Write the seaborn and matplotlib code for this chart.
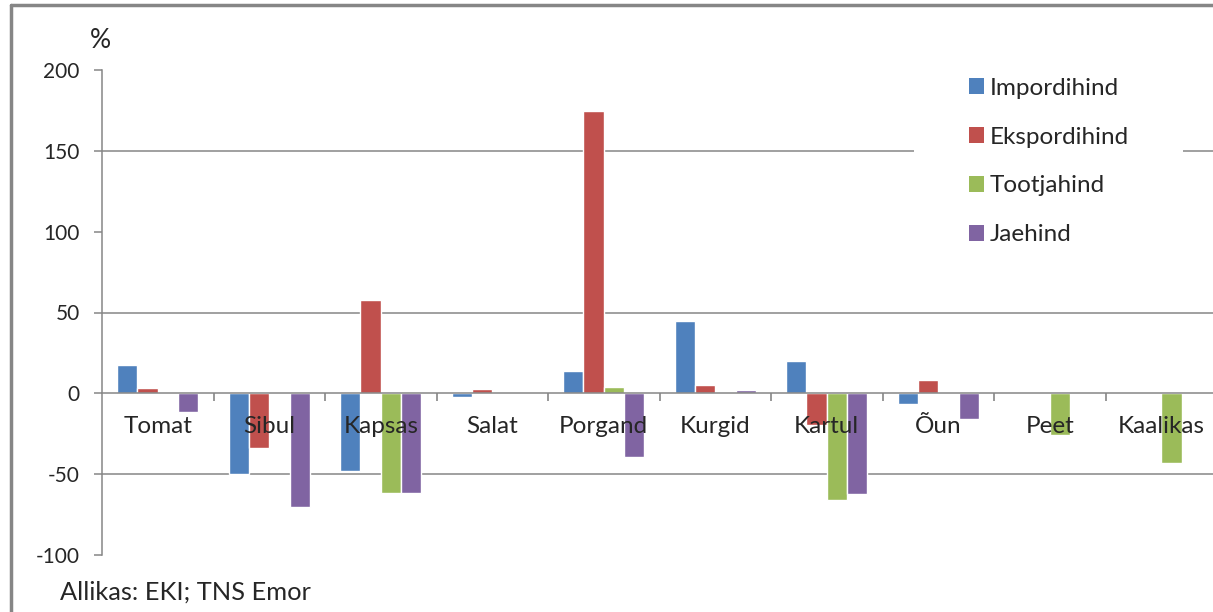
import pandas as pd
import numpy as np
import matplotlib.pyplot as plt
import seaborn as sns
from matplotlib.lines import Line2D
from matplotlib.patches import Patch

# andmed (loetud pildilt, %)
kategooriad = ["Tomat", "Sibul", "Kapsas", "Salat", "Porgand", "Kurgid", "Kartul", "Õun", "Peet", "Kaalikas"]
seeriad = ["Impordihind", "Ekspordihind", "Tootjahind", "Jaehind"]

impordihind = [17.3, -50, -48, -2.3, 13.8, 45, 19.8, -6.8, 0, 0]
ekspordihind = [3, -34, 58, 2.5, 174.7, 5, -19.5, 8, 0, 0]
tootjahind = [0, 0, -61.5, 0, 3.9, 0, -66, 0, -26, -43]
jaehind = [-11.5, -70, -61.5, 0, -39.5, 2, -62.3, -16, 0, 0]

varvid = ["#4F81BD", "#C0504D", "#9BBB59", "#8064A2"]

df = pd.DataFrame({
    "Toode": kategooriad * 4,
    "Seeria": sum([[s] * len(kategooriad) for s in seeriad], []),
    "Muutus": impordihind + ekspordihind + tootjahind + jaehind,
})

sns.set_style("white")
plt.rcParams['font.family'] = ['Lato', 'DejaVu Sans']
plt.rcParams['axes.unicode_minus'] = False

fig = plt.figure(figsize=(12.13, 6.12), dpi=100)
ax = fig.add_axes([102/1213, 57/612, 1115/1213, 485/612])

sns.barplot(data=df, x="Toode", y="Muutus", hue="Seeria", order=kategooriad,
            hue_order=seeriad, palette=varvid, saturation=1, width=0.73,
            errorbar=None, ax=ax, legend=False)

grey = "#868686"
ax.set_axisbelow(False)  # nimed tulpade peale nagu Excelis
ax.set_xlim(-0.5, 9.5)
ax.set_ylim(-100, 200)
ax.set_yticks(np.arange(-100, 201, 50))
for g in [150, 50, -50]:
    ax.axhline(g, color=grey, lw=1.1, zorder=0)

for s in ["top", "right"]:
    ax.spines[s].set_visible(False)
ax.spines["left"].set_color(grey)
ax.spines["left"].set_linewidth(1.1)
ax.spines["bottom"].set_position(("data", 0))
ax.spines["bottom"].set_color(grey)
ax.spines["bottom"].set_linewidth(1.1)

ax.set_xticks(range(len(kategooriad)))
ax.set_xticklabels(kategooriad)
ax.set_xticks(np.arange(0.5, 9.6, 1), minor=True)
ax.tick_params(axis="x", which="major", length=0, pad=16, labelsize=17.5)
ax.tick_params(axis="x", which="minor", length=6, width=1.2, color=grey, direction="out", bottom=True)
ax.tick_params(axis="y", length=6, width=1.1, color=grey, direction="out", left=True, pad=10, labelsize=15)
ax.set_xlabel("")
ax.set_ylabel("")

handles = [Patch(facecolor=c, edgecolor="none") for c in varvid]
leg = ax.legend(handles, seeriad, loc="upper left", bbox_to_anchor=(914/1213, 1 - 63/612),
                bbox_transform=fig.transFigure, frameon=True, fontsize=17.5,
                handlelength=0.65, handleheight=0.65, handletextpad=0.2,
                labelspacing=1.15, borderpad=0.6, borderaxespad=0)
leg.get_frame().set_facecolor("white")
leg.get_frame().set_edgecolor("none")
leg.get_frame().set_alpha(1)
leg.get_frame().set_boxstyle("square", pad=0)
leg._legend_box.set_width(240)

fig.text(100/1213, 1 - 40/612, "%", ha="center", va="center", fontsize=19)
fig.text(60/1213, 1 - 592/612, "Allikas: EKI; TNS Emor", ha="left", va="center", fontsize=18.3)

# raam ümber graafiku
fig.add_artist(Line2D([11/1213, 11/1213], [0, 1 - 5/612], color=grey, lw=2.5, transform=fig.transFigure))
fig.add_artist(Line2D([11/1213, 1], [1 - 5/612, 1 - 5/612], color=grey, lw=2.5, transform=fig.transFigure))

plt.savefig("out.png", dpi=100)
